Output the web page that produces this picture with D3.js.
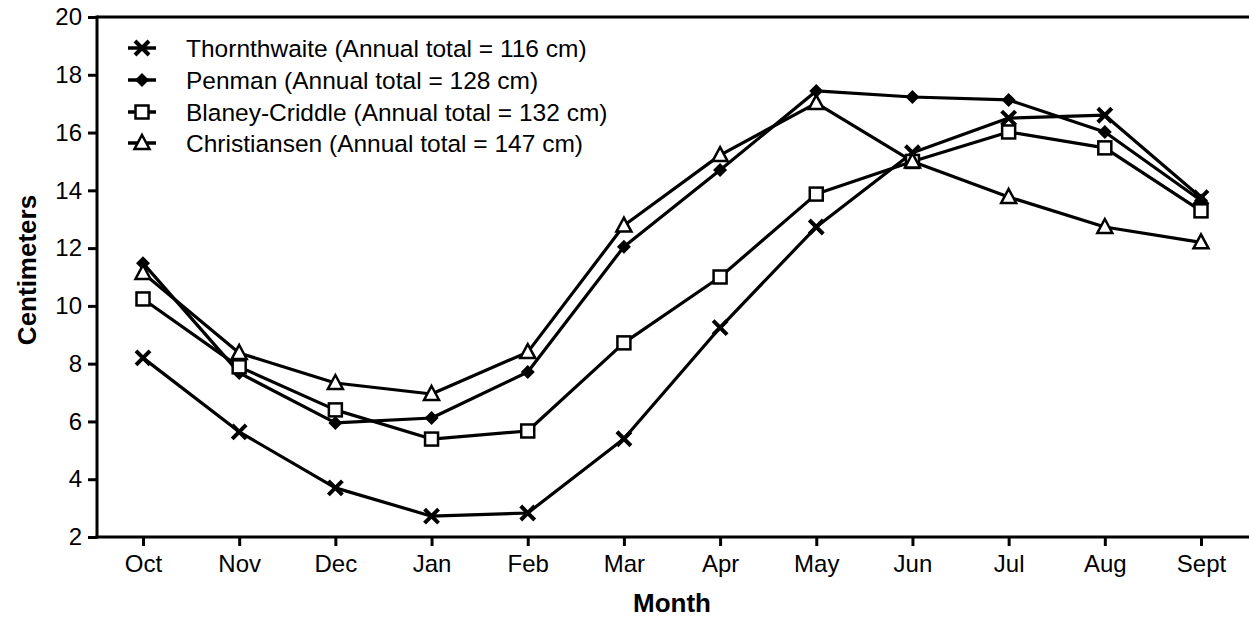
<!DOCTYPE html>
<html><head><meta charset="utf-8">
<script src="https://cdn.jsdelivr.net/npm/d3@7"></script>
<style>body{margin:0;background:#fff}svg{display:block}text{font-family:"Liberation Sans",Arial,Helvetica,sans-serif;fill:#000}</style>
</head><body><svg id="c" width="1249" height="619"></svg>
<script>
const months = ["Oct","Nov","Dec","Jan","Feb","Mar","Apr","May","Jun","Jul","Aug","Sept"];
const yTicks = [2,4,6,8,10,12,14,16,18,20];
const thornthwaite = [8.2,5.64,3.70,2.72,2.83,5.4,9.25,12.73,15.3,16.5,16.6,13.75];
const penman = [11.48,7.68,5.95,6.12,7.71,12.05,14.70,17.44,17.23,17.13,16.02,13.65];
const blaneyCriddle = [10.24,7.89,6.40,5.39,5.67,8.72,11.0,13.87,15.0,16.02,15.47,13.29];
const christiansen = [11.14,8.37,7.33,6.95,8.40,12.78,15.22,17.02,15.0,13.77,12.73,12.2];
const seriesNames = ["Thornthwaite (Annual total = 116 cm)","Penman (Annual total = 128 cm)","Blaney-Criddle (Annual total = 132 cm)","Christiansen (Annual total = 147 cm)"];
const seriesKeys = ["x","diamond","square","triangle"];
const seriesData = [thornthwaite, penman, blaneyCriddle, christiansen];

const svg = d3.select("#c");
const L=97, T=17, R=1249, B=537;
const x = d3.scalePoint().domain(months).range([143,1201]);
const y = d3.scaleLinear().domain([2,20]).range([B,T]);

svg.append("line").attr("x1",L).attr("x2",R).attr("y1",T).attr("y2",T).attr("stroke","#000").attr("stroke-width",3);
const yAxis = svg.append("g").attr("transform",`translate(${L},0)`)
  .call(d3.axisLeft(y).tickValues(yTicks).tickSize(9).tickPadding(6));
yAxis.select(".domain").remove();
yAxis.selectAll(".tick line").attr("stroke-width",3);
yAxis.selectAll("text").attr("font-size",24).attr("font-family","Liberation Sans, Arial, sans-serif");
svg.append("line").attr("x1",L).attr("x2",L).attr("y1",T-1.5).attr("y2",B+1.5).attr("stroke","#000").attr("stroke-width",3);

const xAxis = svg.append("g").attr("transform",`translate(0,${B})`)
  .call(d3.axisBottom(x).tickSize(9).tickPadding(9));
xAxis.select(".domain").remove();
xAxis.selectAll(".tick line").attr("stroke-width",3);
xAxis.selectAll("text").attr("font-size",24).attr("font-family","Liberation Sans, Arial, sans-serif");
svg.append("line").attr("x1",L-1.5).attr("x2",R).attr("y1",B).attr("y2",B).attr("stroke","#000").attr("stroke-width",3);

svg.append("text").attr("x",672).attr("y",612).attr("text-anchor","middle")
  .attr("font-size",26).attr("font-weight","bold").text("Month");
svg.append("text").attr("transform","translate(36,270) rotate(-90)").attr("text-anchor","middle")
  .attr("font-size",26).attr("font-weight","bold").text("Centimeters");

function marker(g, kind){
  if(kind==="x"){
    g.append("path").attr("d","M-7,-7L7,7M-7,7L7,-7").attr("stroke","#000").attr("stroke-width",4).attr("fill","none");
  } else if(kind==="diamond"){
    g.append("path").attr("d","M0,-7L7,0L0,7L-7,0Z").attr("fill","#000");
  } else if(kind==="square"){
    g.append("rect").attr("x",-6.5).attr("y",-6.5).attr("width",13).attr("height",13).attr("fill","#fff").attr("stroke","#000").attr("stroke-width",2.5);
  } else {
    g.append("path").attr("d","M0,-8L7.5,6L-7.5,6Z").attr("fill","#fff").attr("stroke","#000").attr("stroke-width",2.5);
  }
}

const line = d3.line().x((d,i)=>x(months[i])).y(d=>y(d));
seriesData.forEach((vals)=>{
  svg.append("path").datum(vals).attr("d",line).attr("fill","none").attr("stroke","#000").attr("stroke-width",3.2).attr("stroke-linejoin","round");
});
seriesData.forEach((vals,si)=>{
  vals.forEach((v,i)=>{
    const g = svg.append("g").attr("transform",`translate(${x(months[i])},${y(v)})`);
    marker(g, seriesKeys[si]);
  });
});

const legY = [48,80,112,143];
seriesNames.forEach((name,i)=>{
  const g = svg.append("g").attr("transform",`translate(142,${legY[i]})`);
  g.append("line").attr("x1",-14).attr("x2",14).attr("stroke","#000").attr("stroke-width",3.5);
  marker(g, seriesKeys[i]);
  svg.append("text").attr("x",186).attr("y",legY[i]).attr("dy","0.35em").attr("font-size",24.5).text(name);
});
</script></body></html>
